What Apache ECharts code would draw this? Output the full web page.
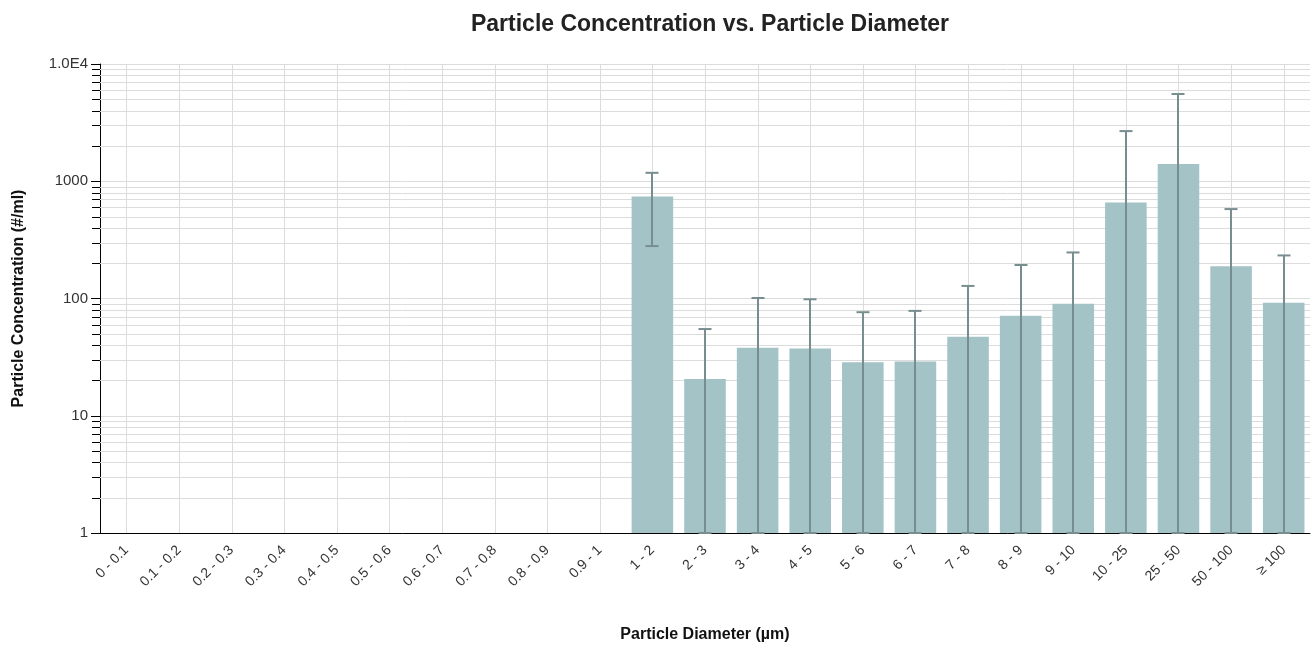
<!DOCTYPE html>
<html>
<head>
<meta charset="utf-8">
<script src="https://cdn.jsdelivr.net/npm/echarts@6/dist/echarts.min.js"></script>
<style>
  html, body { margin: 0; padding: 0; background: #fff; }
  #main { width: 1314px; height: 648px; }
</style>
</head>
<body>
<div id="main"></div>
<script>
// size bins
var categories = ['0 - 0.1', '0.1 - 0.2', '0.2 - 0.3', '0.3 - 0.4', '0.4 - 0.5', '0.5 - 0.6',
  '0.6 - 0.7', '0.7 - 0.8', '0.8 - 0.9', '0.9 - 1', '1 - 2', '2 - 3', '3 - 4', '4 - 5',
  '5 - 6', '6 - 7', '7 - 8', '8 - 9', '9 - 10', '10 - 25', '25 - 50', '50 - 100', '\u2265 100'];
// mean concentration (#/ml)
var values = [null, null, null, null, null, null, null, null, null, null,
  740, 20.6, 38.1, 37.4, 28.6, 29.0, 47.2, 71.1, 90.3, 659, 1400, 188, 92.2];
// error bar ends (lower ones below 1 sit on the axis)
var upper = [null, null, null, null, null, null, null, null, null, null,
  1180, 54.9, 101, 98.5, 76.4, 78.4, 128, 193, 247, 2678, 5545, 579, 233];
var lower = [null, null, null, null, null, null, null, null, null, null,
  280, 1, 1, 1, 1, 1, 1, 1, 1, 1, 1, 1, 1];
// log minor ticks
var minorValues = [2, 3, 4, 5, 6, 7, 8, 9, 20, 30, 40, 50, 60, 70, 80, 90,
  200, 300, 400, 500, 600, 700, 800, 900, 2000, 3000, 4000, 5000, 6000, 7000, 8000, 9000];

var font = 'Liberation Sans, Arial, sans-serif';
var gridColor = '#dcdcdc';

var errData = [];
for (var i = 0; i < categories.length; i++) {
  if (values[i] != null) errData.push([i, lower[i], upper[i]]);
}

var myChart = echarts.init(document.getElementById('main'));
myChart.setOption({
  animation: false,
  title: {
    text: 'Particle Concentration vs. Particle Diameter',
    left: 705, top: 8, textAlign: 'center',
    textStyle: { fontFamily: font, fontSize: 23, fontWeight: 'bold', color: '#222' }
  },
  grid: { left: 100, right: 4, top: 64, bottom: 111 },
  xAxis: {
    type: 'category',
    data: categories,
    name: 'Particle Diameter (\u00b5m)',
    nameLocation: 'middle',
    nameGap: 94,
    nameTextStyle: { fontFamily: font, fontSize: 16, fontWeight: 'bold', color: '#111' },
    axisLine: { lineStyle: { color: '#000', width: 1 } },
    axisTick: { alignWithLabel: true, length: 7, lineStyle: { color: '#000' } },
    axisLabel: { interval: 0, rotate: 45, fontFamily: font, fontSize: 14, color: '#333', margin: 15 },
    splitLine: { show: false }
  },
  yAxis: {
    type: 'log',
    min: 1, max: 10000,
    logBase: 10,
    name: 'Particle Concentration (#/ml)',
    nameLocation: 'middle',
    nameGap: 73,
    nameTextStyle: { fontFamily: font, fontSize: 16, fontWeight: 'bold', color: '#111' },
    axisLine: { show: true, lineStyle: { color: '#000', width: 1 } },
    axisTick: { show: true, length: 9, lineStyle: { color: '#000' } },
    axisLabel: {
      fontFamily: font, fontSize: 15, color: '#333', margin: 12,
      formatter: function (v) { return v >= 10000 ? '1.0E4' : String(v); }
    },
    splitLine: { show: true, lineStyle: { color: gridColor, width: 1 } }
  },
  series: [
    {
      // vertical grid lines at the bin centres
      type: 'custom', silent: true, z: 1,
      data: categories.map(function (c, i) { return [i, 1]; }),
      renderItem: function (params, api) {
        var cs = params.coordSys;
        var x = Math.round(api.coord([api.value(0), 1])[0]) + 0.5;
        return {
          type: 'line',
          shape: { x1: x, y1: cs.y, x2: x, y2: cs.y + cs.height },
          style: { stroke: gridColor, lineWidth: 1 }
        };
      }
    },
    {
      // minor horizontal grid lines and ticks
      type: 'custom', silent: true, z: 1, clip: false,
      data: minorValues.map(function (v) { return [0, v]; }),
      renderItem: function (params, api) {
        var cs = params.coordSys;
        var y = Math.round(api.coord([0, api.value(1)])[1]) + 0.5;
        return {
          type: 'group',
          children: [
            { type: 'line', shape: { x1: cs.x, y1: y, x2: cs.x + cs.width, y2: y },
              style: { stroke: gridColor, lineWidth: 1 } },
            { type: 'line', shape: { x1: cs.x - 8, y1: y, x2: cs.x, y2: y },
              style: { stroke: '#000', lineWidth: 1 } }
          ]
        };
      }
    },
    {
      name: 'Concentration',
      type: 'bar',
      z: 2,
      data: values,
      barCategoryGap: '21%',
      itemStyle: { color: '#a3c3c7' }
    },
    {
      // error bars
      type: 'custom', z: 3, silent: true,
      data: errData,
      encode: { x: 0, y: [1, 2] },
      renderItem: function (params, api) {
        var i = api.value(0);
        var lo = api.coord([i, api.value(1)]);
        var hi = api.coord([i, api.value(2)]);
        var x = Math.round(lo[0]);
        var w = 6.5;
        var st = { stroke: '#788d90', lineWidth: 2 };
        return {
          type: 'group',
          children: [
            { type: 'line', shape: { x1: x, y1: lo[1], x2: x, y2: hi[1] }, style: st },
            { type: 'line', shape: { x1: x - w, y1: hi[1], x2: x + w, y2: hi[1] }, style: st },
            { type: 'line', shape: { x1: x - w, y1: lo[1], x2: x + w, y2: lo[1] }, style: st }
          ]
        };
      }
    }
  ]
});
</script>
</body>
</html>
